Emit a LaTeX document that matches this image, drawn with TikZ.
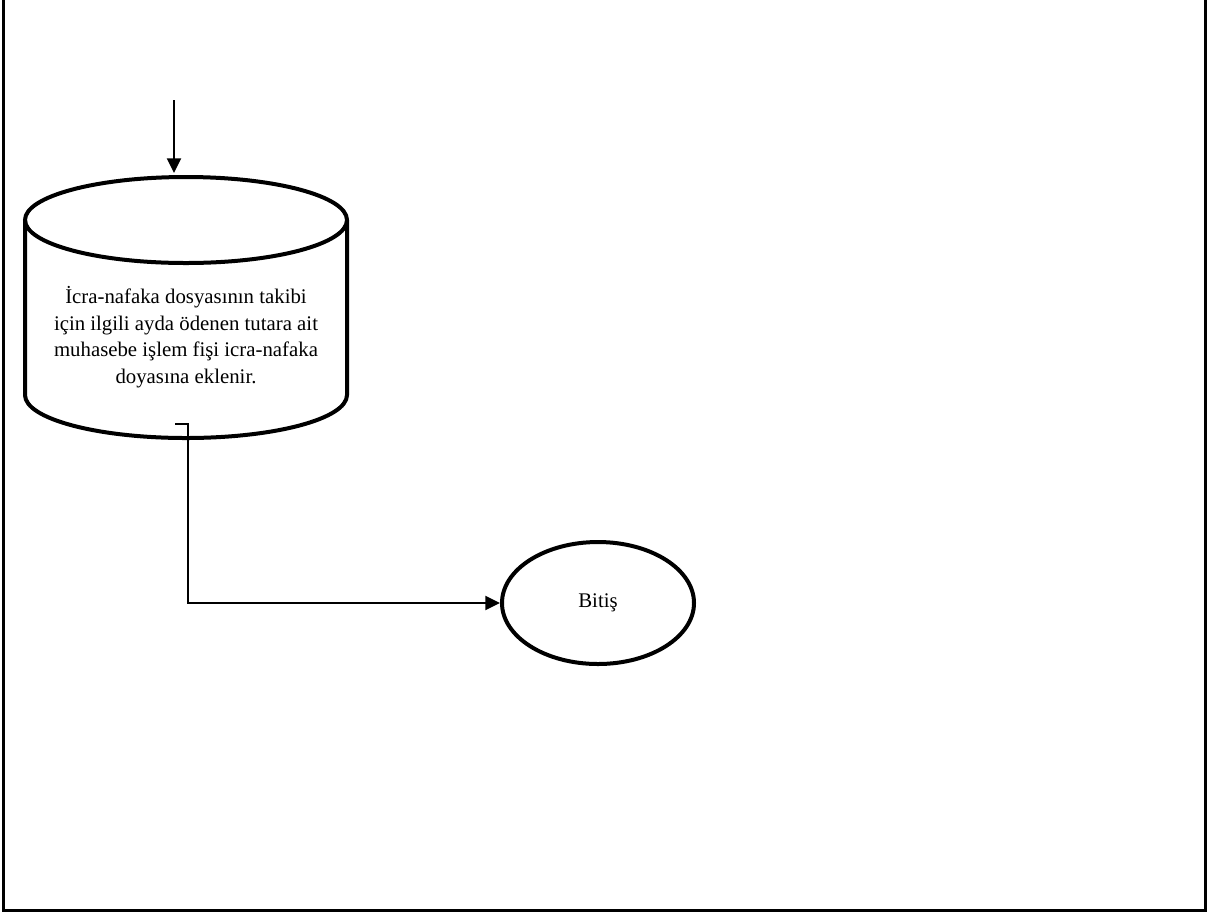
\documentclass[tikz,border=0pt]{standalone}
\usepackage{fontspec}
\setmainfont{Liberation Serif}
\usepackage{tikz}
\usetikzlibrary{arrows.meta,shapes.geometric,positioning}

\begin{document}
\begin{tikzpicture}[
  x=0.75pt,
  y=-0.75pt,
  frame/.style={line width=2.25pt},
  dbline/.style={line width=3pt},
  flow/.style={-{Triangle[length=11pt,width=10.5pt]}, line width=1.5pt},
  dbtext/.style={align=center, inner sep=0pt, font=\fontsize{15.6}{20}\selectfont},
  terminal/.style={ellipse, draw, line width=3pt, minimum width=144pt, minimum height=91.5pt, inner sep=0pt, font=\fontsize{15.6}{20}\selectfont}
]
\useasboundingbox (0,0) rectangle (1212,915);
\draw[frame] (3,0) -- (3,910) -- (1205,910) -- (1205,0);

\draw[dbline] (25,220) -- (25,395) arc[start angle=180, end angle=0, x radius=161, y radius=43] -- (347,220);
\draw[dbline] (186,220) ellipse [x radius=161, y radius=43];
\node[dbtext] (db) at (186,337) {İcra-nafaka dosyasının takibi\\için ilgili ayda ödenen tutara ait\\muhasebe işlem fişi icra-nafaka\\doyasına eklenir.};
\coordinate (dbin) at (174,173);
\coordinate (dbout) at (175,424);
\coordinate (start) at (174,100);

\node[terminal] (bitis) at (598,603) {Bitiş};

\draw[flow] (start) -- (dbin);
\draw[flow] (dbout) -- ++(13,0) |- (bitis);
\end{tikzpicture}
\end{document}
